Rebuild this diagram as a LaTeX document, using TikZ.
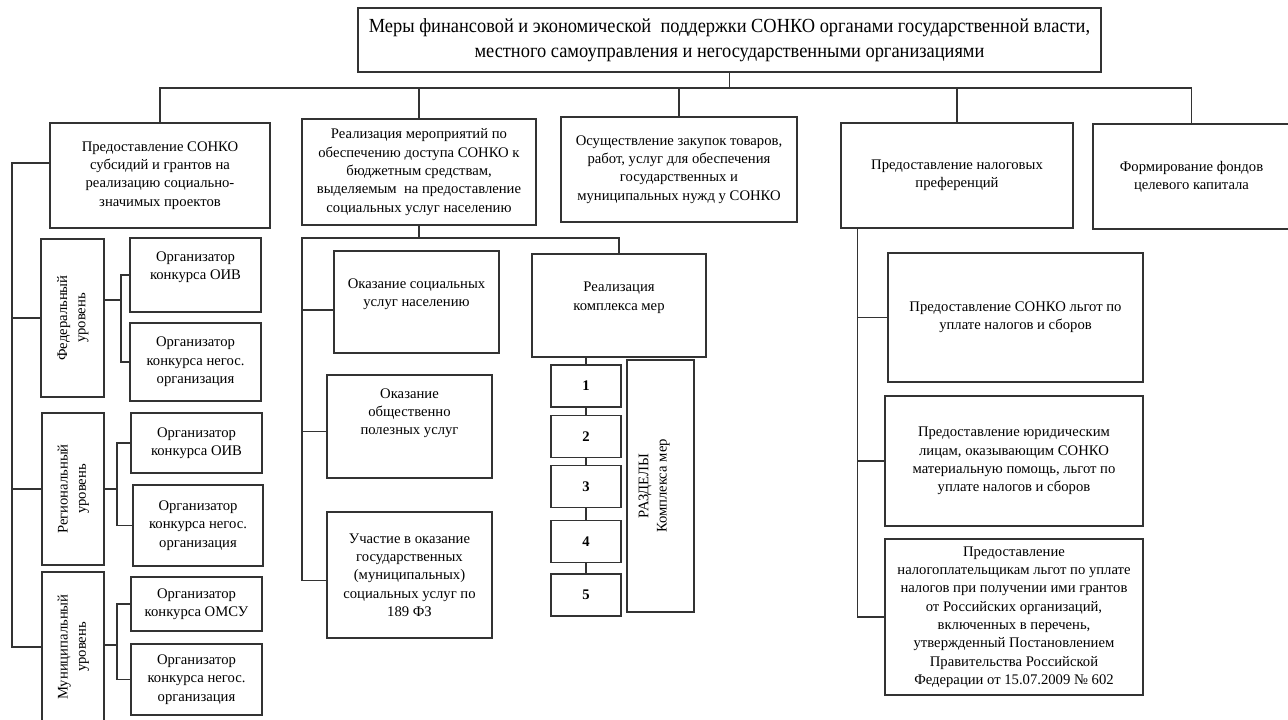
\documentclass[tikz,border=0pt]{standalone}
\usepackage{fontspec}
\usepackage{graphicx}
\setmainfont{Liberation Serif}
\newfontfamily\titlefont[FakeStretch=0.92]{Liberation Serif}
\usetikzlibrary{positioning}
\newcommand*{\busY}{88}
\newcommand*{\leftX}{12}
\newcommand*{\midX}{302}
\newcommand*{\vtext}[1]{\rotatebox{90}{\begin{tabular}{@{}c@{}}#1\end{tabular}}}
% empty last line, lifts the text inside its box
\newcommand*{\padbot}[1]{\\[#1]\mbox{}}
\tikzset{
	box/.style={draw=black!80, line width=0.8pt, align=center, inner sep=2pt,
		font=\fontsize{11}{13.75}\selectfont},
	sz/.style 2 args={minimum width=#1*0.75pt, minimum height=#2*0.75pt},
	link/.style={draw=black!80, line width=0.8pt},
}
\begin{document}
\begin{tikzpicture}[x=0.75pt,y=-0.75pt]
	\useasboundingbox (0,0) rectangle (1288,719);
	
	% top
	\node[box, sz={743}{64}, font=\titlefont\fontsize{15}{18.75}\selectfont] (top) at (729.5,40)
		{Меры финансовой и экономической\ \ поддержки СОНКО органами государственной власти,\\ местного самоуправления и негосударственными организациями};
	
	\node[box, sz={220}{105}] (b1) at (160,175.5) {Предоставление СОНКО\\ субсидий и грантов на\\ реализацию социально-\\ значимых проектов};
	\node[box, sz={234}{106}] (b2) at (419,172) {Реализация мероприятий по\\ обеспечению доступа СОНКО к\\ бюджетным средствам,\\ выделяемым\ \ на предоставление\\ социальных услуг населению};
	\node[box, sz={236}{105}] (b3) at (679,169.5) {Осуществление закупок товаров,\\ работ, услуг для обеспечения\\ государственных и\\ муниципальных нужд у СОНКО};
	\node[box, sz={232}{105}] (b4) at (957,175.5) {Предоставление налоговых\\ преференций};
	\node[box, sz={197}{105}] (b5) at (1191.5,176.5) {Формирование фондов\\ целевого капитала};
	
	\coordinate (tb) at (729,\busY);
	\draw[link] (top.south) -- (top.south |- tb);
	\draw[link] (b1.north) |- (tb) -| (b5.north);
	\foreach \n in {b2,b3,b4}
		\draw[link] (\n.north) -- (\n.north |- tb);
	
	% left column
	\node[box, sz={63}{158}] (fed) at (72.5,318) {\vtext{Федеральный\\ уровень}};
	\node[box, sz={62}{152}] (reg) at (73,489) {\vtext{Региональный\\ уровень}};
	\node[box, sz={62}{150}] (mun) at (73,647) {\vtext{Муниципальный\\ уровень}};
	
	\node[box, sz={131}{74}] (fo) at (195.5,275) {Организатор\\ конкурса ОИВ\padbot{0pt}};
	\node[box, sz={131}{78}] (fn) at (195.5,362) {Организатор\\ конкурса негос.\\ организация};
	\node[box, sz={131}{60}] (ro) at (196.5,443) {Организатор\\ конкурса ОИВ};
	\node[box, sz={130}{81}] (rn) at (198,525.5) {Организатор\\ конкурса негос.\\ организация};
	\node[box, sz={131}{54}] (mo) at (196.5,604) {Организатор\\ конкурса ОМСУ};
	\node[box, sz={131}{71}] (mn) at (196.5,679.5) {Организатор\\ конкурса негос.\\ организация};
	
	\coordinate (lt) at (\leftX,163);
	\draw[link] (lt -| b1.west) -- (lt) |- (mun.west);
	\draw[link] (lt |- fed.west) -- (fed.west);
	\draw[link] (lt |- reg.west) -- (reg.west);
	
	\coordinate (fj) at (121,300);
	\coordinate (rj) at (117,489);
	\coordinate (mj) at (117,645);
	\draw[link] (fj -| fed.east) -- (fj);
	\draw[link] (fo.west) -| (fj) |- (fn.west);
	\draw[link] (rj -| reg.east) -- (rj);
	\draw[link] (ro.west) -| (rj) |- (rn.west);
	\draw[link] (mj -| mun.east) -- (mj);
	\draw[link] (mo.west) -| (mj) |- (mn.west);
	
	% middle column
	\node[box, sz={165}{102}] (osu) at (416.5,302) {Оказание социальных\\ услуг населению\padbot{0pt}};
	\node[box, sz={165}{103}] (opu) at (409.5,426.5) {Оказание\\ общественно\\ полезных услуг\padbot{8.5pt}};
	\node[box, sz={165}{126}] (uch) at (409.5,575) {Участие в оказание\\ государственных\\ (муниципальных)\\ социальных услуг по\\ 189 ФЗ};
	\node[box, sz={174}{103}] (rkm) at (619,305.5) {Реализация\\ комплекса мер\padbot{0pt}};
	
	\node[box, sz={70}{42}] (n1) at (586,386) {\textbf{1}};
	\node[box, sz={70}{42}] (n2) at (586,436.5) {\textbf{2}};
	\node[box, sz={70}{42}] (n3) at (586,486.5) {\textbf{3}};
	\node[box, sz={70}{42}] (n4) at (586,541.5) {\textbf{4}};
	\node[box, sz={70}{42}] (n5) at (586,595) {\textbf{5}};
	\node[box, sz={67}{252}] (raz) at (660.5,486) {\vtext{РАЗДЕЛЫ\\ Комплекса мер}\hspace{10pt}};
	
	\coordinate (mb) at (\midX,238);
	\coordinate (osuin) at ([yshift=-6pt]osu.west);
	\coordinate (opuin) at ([yshift=-4pt]opu.west);
	\coordinate (uchin) at ([yshift=-4pt]uch.west);
	\draw[link] (b2.south) -- (b2.south |- mb);
	\draw[link] (rkm.north) |- (mb) -- (mb |- uchin) -- (uchin);
	\draw[link] (mb |- osuin) -- (osuin);
	\draw[link] (mb |- opuin) -- (opuin);
	
	\draw[link] (rkm.south -| n1) -- (n1);
	\foreach \a/\b in {n1/n2,n2/n3,n3/n4,n4/n5}
		\draw[link] (\a) -- (\b);
	
	% right column
	\node[box, sz={255}{129}] (s1) at (1015.5,317.5) {Предоставление СОНКО льгот по\\ уплате налогов и сборов};
	\node[box, sz={258}{130}] (s2) at (1014,461) {Предоставление юридическим\\ лицам, оказывающим СОНКО\\ материальную помощь, льгот по\\ уплате налогов и сборов};
	\node[box, sz={258}{156}] (s3) at (1014,617) {Предоставление\\ налогоплательщикам льгот по уплате\\ налогов при получении ими грантов\\ от Российских организаций,\\ включенных в перечень,\\ утвержденный Постановлением\\ Правительства Российской\\ Федерации от 15.07.2009 № 602};
	
	\coordinate (rt) at ([xshift=12.75pt]b4.south west);
	\draw[link] (rt) |- (s3.west);
	\draw[link] (rt |- s1.west) -- (s1.west);
	\draw[link] (rt |- s2.west) -- (s2.west);
\end{tikzpicture}
\end{document}
